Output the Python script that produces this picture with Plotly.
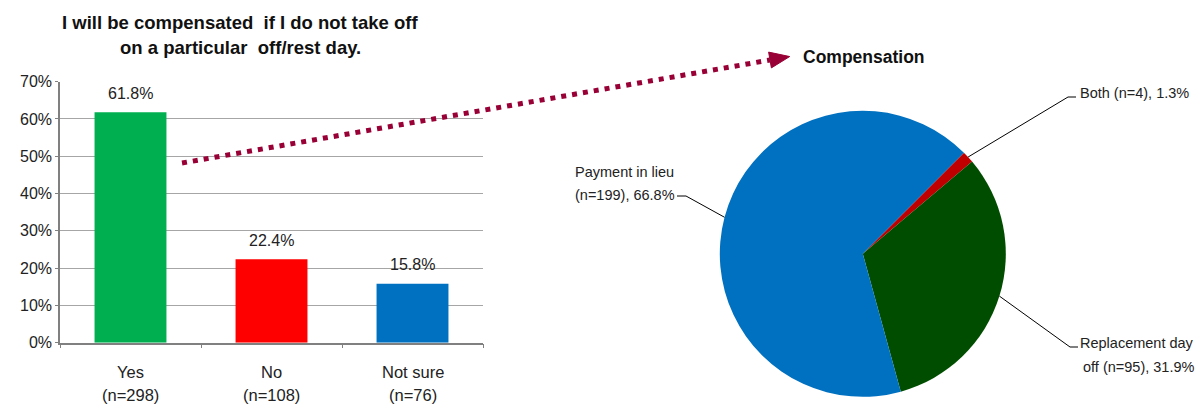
import math
import plotly.graph_objects as go

# ---- data ----
bar_categories = ["Yes", "No", "Not sure"]
bar_counts = ["(n=298)", "(n=108)", "(n=76)"]
bar_values = [0.618, 0.224, 0.158]
bar_colors = ["#00B050", "#FF0000", "#0070C0"]

pie_labels = ["Both", "Replacement day off", "Payment in lieu"]
pie_counts = [4, 95, 199]
pie_colors = ["#C00000", "#004D00", "#0070C0"]

y_ticks = [0, 0.1, 0.2, 0.3, 0.4, 0.5, 0.6, 0.7]

W, H = 1204, 406
FONT = "Liberation Sans, Arial, sans-serif"
TXT = "#222"


def px(x):
    return x / W


def py(y):
    return 1 - y / H


fig = go.Figure()

# ---- bar chart ----
fig.add_trace(go.Bar(
    x=bar_categories, y=bar_values,
    marker=dict(color=bar_colors, line=dict(width=0)),
    width=0.51, showlegend=False, hoverinfo="skip",
    xaxis="x", yaxis="y",
))

for cat, val in zip(bar_categories, bar_values):
    fig.add_annotation(x=cat, y=val, xref="x", yref="y", text=f"{val*100:.1f}%",
                       showarrow=False, xanchor="center", yanchor="middle", yshift=19,
                       font=dict(family=FONT, size=16, color=TXT))

for cat, n in zip(bar_categories, bar_counts):
    fig.add_annotation(x=cat, y=py(372), xref="x", yref="paper", text=cat,
                       showarrow=False, xanchor="center", yanchor="middle",
                       font=dict(family=FONT, size=16.5, color=TXT))
    fig.add_annotation(x=cat, y=py(395), xref="x", yref="paper", text=n,
                       showarrow=False, xanchor="center", yanchor="middle",
                       font=dict(family=FONT, size=16.5, color=TXT))

# chart title
for line_text, ly in [("<b>I will be compensated  if I do not take off</b>", 22),
                      ("<b>on a particular  off/rest day.</b>", 47)]:
    fig.add_annotation(x=px(240), y=py(ly), xref="paper", yref="paper",
                       text=line_text, showarrow=False, xanchor="center", yanchor="middle",
                       font=dict(family=FONT, size=18.5, color="#111"))

# ---- pie chart ----
pie_cx, pie_cy, pie_r = 862.8, 253.8, 143.0
fig.add_trace(go.Pie(
    labels=pie_labels, values=pie_counts,
    marker=dict(colors=pie_colors, line=dict(width=0)),
    sort=False, direction="clockwise", rotation=45,
    textinfo="none", hoverinfo="label+value+percent", showlegend=False,
    domain=dict(x=[px(pie_cx - pie_r), px(pie_cx + pie_r)],
                y=[py(pie_cy + pie_r), py(pie_cy - pie_r)]),
))

fig.add_annotation(x=px(864), y=py(57), xref="paper", yref="paper",
                   text="<b>Compensation</b>", showarrow=False,
                   xanchor="center", yanchor="middle",
                   font=dict(family=FONT, size=17.5, color="#111"))

# leader lines start on the rim at each slice's mid-angle
total = sum(pie_counts)
mid_points = []
acc = 0
for c in pie_counts:
    mid_deg = 45 + (acc + c / 2) / total * 360
    a = math.radians(mid_deg)
    mid_points.append((pie_cx + pie_r * math.sin(a), pie_cy - pie_r * math.cos(a)))
    acc += c

pcts = [c / total * 100 for c in pie_counts]
label_specs = [
    # (elbow, end of horizontal tick, lines, text x, anchor, line y positions)
    ((1068, 97), (1076, 97), [f"Both (n={pie_counts[0]}), {pcts[0]:.1f}%"], 1078, "left", [93]),
    ((1070, 347), (1078, 347),
     ["Replacement day", f"off (n={pie_counts[1]}), {pcts[1]:.1f}%"], 1196, "right", [343, 367]),
    ((686, 196), (677, 196),
     ["Payment in lieu", f"(n={pie_counts[2]}), {pcts[2]:.1f}%"], 573, "left", [172, 195]),
]

shapes = []
for (elbow, tick_end, lines, tx, anchor, ys), start in zip(label_specs, mid_points):
    shapes.append(dict(type="path", xref="paper", yref="paper",
                       path=f"M {px(start[0])},{py(start[1])} L {px(elbow[0])},{py(elbow[1])} "
                            f"L {px(tick_end[0])},{py(tick_end[1])}",
                       line=dict(color="#000", width=1)))
    for line_text, ly in zip(lines, ys):
        fig.add_annotation(x=px(tx), y=py(ly), xref="paper", yref="paper", text=line_text,
                           showarrow=False, xanchor=anchor, yanchor="middle",
                           font=dict(family=FONT, size=14.5, color=TXT))

# dotted connector arrow from the bar chart to the pie
arrow_col = "#990036"
x0, y0, x1, y1 = 182, 163, 770, 60
shapes.append(dict(type="line", xref="paper", yref="paper",
                   x0=px(x0), y0=py(y0), x1=px(x1), y1=py(y1),
                   line=dict(color=arrow_col, width=5, dash="5px,6px")))
dx, dy = x1 - x0, y1 - y0
L = math.hypot(dx, dy)
ux, uy = dx / L, dy / L
nx, ny = -uy, ux
tip = (x1 + 20 * ux, y1 + 20 * uy)
b1 = (x1 + 8 * nx, y1 + 8 * ny)
b2 = (x1 - 8 * nx, y1 - 8 * ny)
shapes.append(dict(type="path", xref="paper", yref="paper",
                   path=f"M {px(tip[0])},{py(tip[1])} L {px(b1[0])},{py(b1[1])} "
                        f"L {px(b2[0])},{py(b2[1])} Z",
                   fillcolor=arrow_col, line=dict(color=arrow_col, width=1)))

fig.update_layout(
    width=W, height=H,
    margin=dict(l=0, r=0, t=0, b=0, autoexpand=False),
    paper_bgcolor="white", plot_bgcolor="white",
    shapes=shapes,
    bargap=0.49,
    xaxis=dict(domain=[px(60), px(483)], showticklabels=False, automargin=False,
               ticks="outside", tickson="boundaries", ticklen=4, tickcolor="#808080",
               showline=True, linecolor="#808080", linewidth=1.5,
               showgrid=False, zeroline=False, fixedrange=True),
    yaxis=dict(domain=[py(342.7), py(81.7)], range=[0, 0.7], automargin=False,
               tickvals=y_ticks, ticktext=[f"{int(round(v*100))}%" for v in y_ticks],
               ticks="outside", ticklen=3, tickcolor="#808080",
               showline=True, linecolor="#808080", linewidth=1.5,
               showgrid=True, gridcolor="#A6A6A6", gridwidth=1,
               zeroline=False, fixedrange=True,
               tickfont=dict(family=FONT, size=16, color=TXT)),
    font=dict(family=FONT),
)

fig.write_html("out.html")
